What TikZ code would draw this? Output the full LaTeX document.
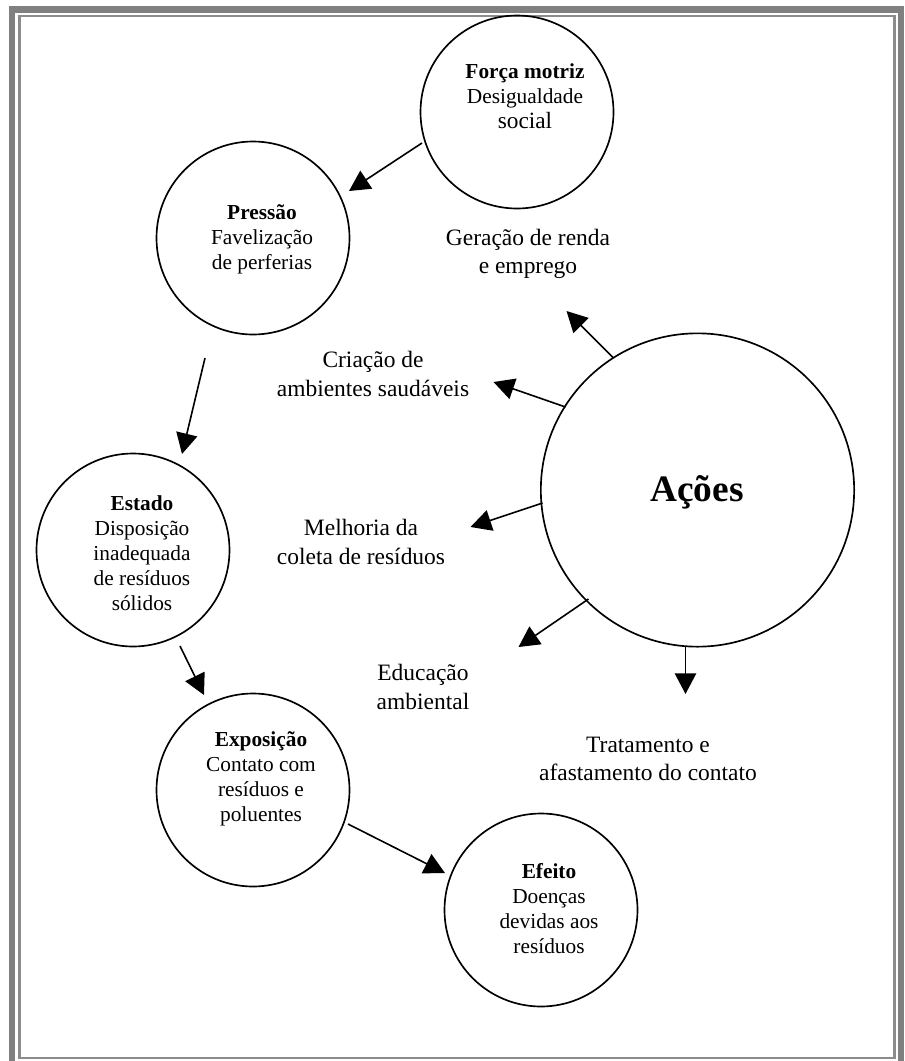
\documentclass[tikz,border=0pt]{standalone}
\usepackage{fontspec}
\setmainfont{Liberation Serif}
\usetikzlibrary{arrows.meta,calc}
\definecolor{framegray}{RGB}{128,128,128}
\definecolor{linegray}{RGB}{140,140,140}
\begin{document}
\begin{tikzpicture}[x=0.75pt,y=-0.75pt,
  ring/.style={circle,draw,line width=1.25pt,minimum size=144.75pt,inner sep=0pt},
  bigring/.style={circle,draw,line width=1.25pt,minimum size=235pt,inner sep=0pt},
  ctext/.style={align=center,font=\fontsize{16}{18.75}\selectfont,inner sep=0pt},
  lbl/.style={align=center,font=\fontsize{17.6}{21.4}\selectfont,inner sep=0pt},
  arr/.style={line width=1.2pt,-{Triangle[length=15.5pt,width=16pt]}},
]
\useasboundingbox (0,0) rectangle (904,1061);
% frame
\draw[framegray,line width=4.9pt] (12,9.5) rectangle (901,1075);
\draw[linegray,line width=1.9pt] (19.5,16) rectangle (894.5,1058);

% circles
\node[ring] (frc) at (517,112) {};
\node[ring] (prs) at (253,238) {};
\node[ring] (est) at (133,550) {};
\node[ring] (exp) at (253,790) {};
\node[ring] (eff) at (541,910) {};
\node[bigring] (act) at (697.5,490) {};

% circle texts
\node[ctext] (frct) at (525,96) {\textbf{Força motriz}\\Desigualdade\\{\fontsize{17.5}{18.75}\selectfont social}};
\node[ctext] (prst) at (262,239) {\textbf{Pressão}\\Favelização\\de perferias};
\node[ctext] (estt) at (142,553) {\textbf{Estado}\\Disposição\\inadequada\\de resíduos\\sólidos};
\node[ctext] (expt) at (261,779) {\textbf{Exposição}\\Contato com\\resíduos e\\poluentes};
\node[ctext] (efft) at (549,909) {\textbf{Efeito}\\Doenças\\devidas aos\\resíduos};
\node[font=\fontsize{28}{30}\selectfont\bfseries,inner sep=0pt] (actt) at (697,492) {Ações};

% labels
\node[lbl] (l1) at (528,254) {Geração de renda\\e emprego};
\node[lbl] (l2) at (373,374) {Criação de\\ambientes saudáveis};
\node[lbl] (l3) at (361,542) {Melhoria da\\coleta de resíduos};
\node[lbl] (l4) at (423,687) {Educação\\ambiental};
\node[lbl] (l5) at (648,759) {Tratamento e\\afastamento do contato};

% cycle arrows
\draw[arr] ($(frc.center)+(-95,31)$) -- ($(prs.center)+(96,-47)$);
\draw[arr] ($(prs.center)+(-48,120)$) -- ($(est.center)+(49,-96)$);
\draw[arr] ($(est.center)+(47,96)$) -- ($(exp.center)+(-49,-95)$);
\draw[arr] ($(exp.center)+(95,34)$) -- ($(eff.center)+(-96,-37)$);

% action arrows
\coordinate (e1) at ($(act.center)+(-131,-179)$);
\coordinate (e2) at ($(act.center)+(-204,-108)$);
\coordinate (e3) at ($(act.center)+(-227,37)$);
\coordinate (e4) at ($(act.center)+(-179,157)$);
\coordinate (e5) at ($(act.center)+(-12,204)$);
\draw[arr] ($(act.center)+(-84,-132)$) -- (e1);
\draw[arr] ($(act.center)+(-132,-83)$) -- (e2);
\draw[arr] ($(act.center)+(-155,13)$) -- (e3);
\draw[arr] ($(act.center)+(-109,109)$) -- (e4);
\draw[arr] ($(act.center)+(-12,157)$) -- (e5);
\end{tikzpicture}
\end{document}
